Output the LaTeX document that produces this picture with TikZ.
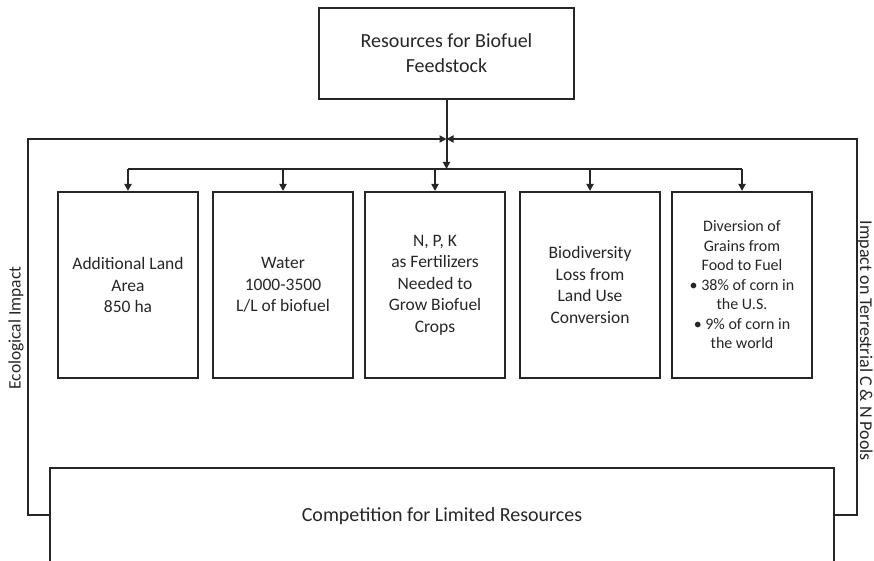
\documentclass[tikz,border=0pt]{standalone}
\usepackage{fontspec}
\setmainfont{Carlito}
\usetikzlibrary{arrows.meta}
\begin{document}
\begin{tikzpicture}[x=1pt,y=-1pt,line width=2pt,draw=black!85,
    box/.style={draw,rectangle,align=center,inner sep=0pt,text=black!85},
    inbox/.style={box,minimum width=140pt,minimum height=186pt,font=\fontsize{17.5}{21.5}\selectfont},
    tip/.style={-{Triangle[length=7pt,width=7pt]}}]
  \clip (0,0) rectangle (874,561);
  \useasboundingbox (0,0) rectangle (874,561);
  % source and target
  \node[box,minimum width=255pt,minimum height=91pt,font=\fontsize{20}{25}\selectfont] (res) at (446.5,53.5) {Resources for Biofuel\\Feedstock};
  \node[box,minimum width=784pt,minimum height=96pt,font=\fontsize{20}{25}\selectfont] (comp) at (442,516) {Competition for Limited Resources};
  % the five resources
  \node[inbox] (land) at (128,285) {Additional Land\\Area\\850 ha};
  \node[inbox] (water) at (283,285) {Water\\1000-3500\\L/L of biofuel};
  \node[inbox] (npk) at (435,285) {N, P, K\\as Fertilizers\\Needed to\\Grow Biofuel\\Crops};
  \node[inbox] (biod) at (590,285) {Biodiversity\\Loss from\\Land Use\\Conversion};
  \node[inbox,font=\fontsize{16}{19.5}\selectfont] (grain) at (742,285) {Diversion of\\Grains from\\Food to Fuel\\• 38\% of corn in\\the U.S.\\• 9\% of corn in\\the world};
  % feedback lines
  \coordinate (split) at (446.5,169);
  \coordinate (meet) at (446.5,139);
  \draw[tip] (res.south) -- (split);
  \draw (split -| land) -- (split -| grain);
  \foreach \b in {land,water,npk,biod,grain}
    \draw[tip] (split -| \b) -- (\b.north);
  \draw[tip] (comp.west |- 0,515) -- (28,515) -- (28,139) -- (meet);
  \draw[tip] (comp.east |- 0,515) -- (857,515) -- (857,139) -- (meet);
  \node[rotate=90,text=black!85,font=\fontsize{17.5}{20}\selectfont] (eco) at (16,328) {Ecological Impact};
  \node[rotate=-90,text=black!85,font=\fontsize{18}{20}\selectfont] (pools) at (865,341) {Impact on Terrestrial C \& N Pools};
\end{tikzpicture}
\end{document}
